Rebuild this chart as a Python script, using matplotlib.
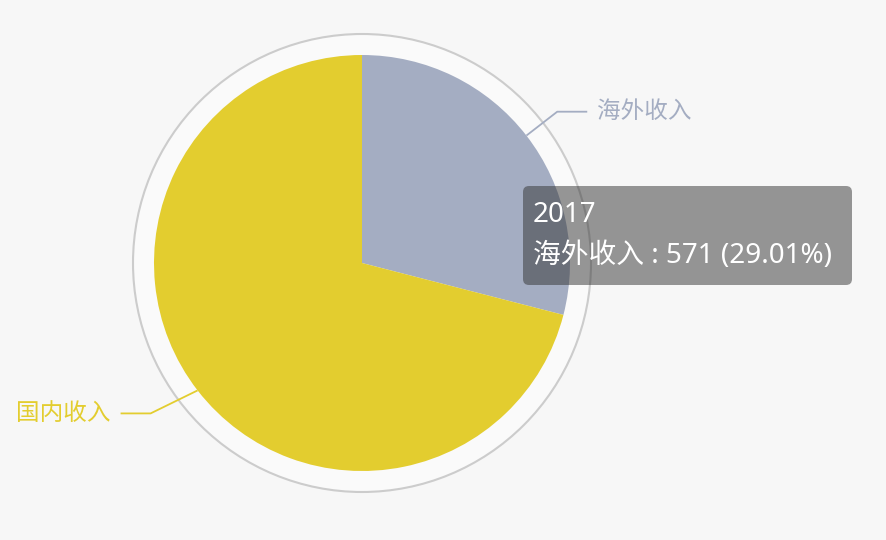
import numpy as np
import matplotlib.pyplot as plt
from matplotlib.patches import Circle, FancyBboxPatch

plt.rcParams['font.family'] = ['Noto Sans CJK SC', 'DejaVu Sans']

# 数据
year = '2017'
labels = ['海外收入', '国内收入']
values = [571, 1397]
colors = ['#a4adc2', '#e3cd2f']

W, H = 886, 540
fig = plt.figure(figsize=(W / 100, H / 100), dpi=100)
fig.patch.set_facecolor('#f7f7f7')
ax = fig.add_axes([0, 0, 1, 1])
ax.set_xlim(0, W)
ax.set_ylim(0, H)
ax.set_aspect('equal')
ax.axis('off')

cx, cy = 362, H - 263   # 饼图中心（y向上）
r = 208

# 外圈
ax.add_patch(Circle((cx, cy), 229, facecolor='#fafafa', edgecolor='#cccccc', lw=1.5, zorder=1))

wedges, _ = ax.pie(values, colors=colors, startangle=90, counterclock=False,
                   center=(cx, cy), radius=r, frame=True,
                   wedgeprops=dict(linewidth=0, zorder=2))
ax.set_xlim(0, W)
ax.set_ylim(0, H)
ax.axis('off')

# 标签引导线
knee_ext = [39, 52]
for w, lab, col, ext in zip(wedges, labels, colors, knee_ext):
    ang = np.deg2rad((w.theta1 + w.theta2) / 2)
    x0, y0 = cx + r * np.cos(ang), cy + r * np.sin(ang)
    x1, y1 = cx + (r + ext) * np.cos(ang), cy + (r + ext) * np.sin(ang)
    side = 1 if np.cos(ang) > 0 else -1
    if side < 0:
        # 国内收入标签的折点偏左
        x1 = x0 - 47
        y1 = y0 - 23
    x2 = x1 + side * 30
    ax.plot([x0, x1, x2], [y0, y1, y1], color=col, lw=1.3, zorder=3,
            solid_capstyle='butt')
    ax.text(x2 + side * 10, y1, lab, color=col, fontsize=17,
            ha='left' if side > 0 else 'right', va='center', zorder=3)

# 提示框
total = sum(values)
pct = values[0] / total * 100
tip_font = ['Noto Sans', 'Noto Sans CJK SC']
ax.add_patch(FancyBboxPatch((527, H - 281), 321, 91,
                            boxstyle='round,pad=4,rounding_size=6',
                            facecolor=(0.196, 0.196, 0.196, 0.5), edgecolor='none', zorder=5))
ax.text(533, H - 215, year, color='white', fontsize=20, family=tip_font,
        ha='left', va='center', zorder=6)
ax.text(533, H - 256, '%s : %d (%.2f%%)' % (labels[0], values[0], pct),
        color='white', fontsize=20, family=tip_font, ha='left', va='center', zorder=6)

fig.savefig('out.png', dpi=100, facecolor=fig.get_facecolor())
